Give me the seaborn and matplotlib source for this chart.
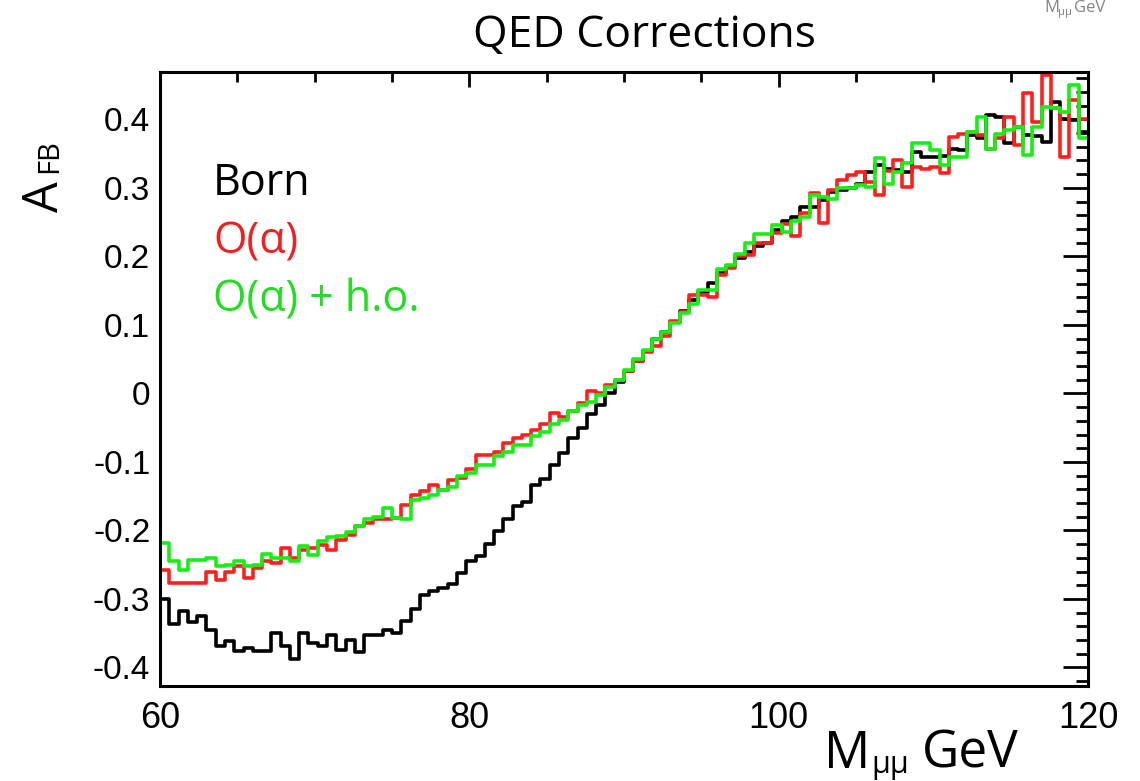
import numpy as np
import pandas as pd
import matplotlib
matplotlib.use("Agg")
import matplotlib.pyplot as plt
from matplotlib.ticker import MultipleLocator, FixedLocator, FuncFormatter
import seaborn as sns

# Binning of the dimuon mass distribution (GeV)
m_low, m_high, n_bins = 60.0, 120.0, 100

# Forward-backward asymmetry per bin
born = [
    -0.300, -0.337, -0.318, -0.333, -0.325, -0.345, -0.369, -0.362, -0.376, -0.371,
    -0.376, -0.376, -0.350, -0.369, -0.388, -0.350, -0.364, -0.369, -0.352, -0.374,
    -0.360, -0.377, -0.352, -0.352, -0.346, -0.349, -0.332, -0.315, -0.294, -0.289,
    -0.284, -0.278, -0.262, -0.244, -0.238, -0.220, -0.201, -0.184, -0.165, -0.159,
    -0.133, -0.125, -0.104, -0.087, -0.065, -0.051, -0.030, -0.017, 0.000, 0.017,
    0.032, 0.047, 0.062, 0.079, 0.090, 0.104, 0.120, 0.137, 0.148, 0.161,
    0.175, 0.186, 0.197, 0.207, 0.215, 0.220, 0.238, 0.252, 0.257, 0.272,
    0.272, 0.282, 0.294, 0.297, 0.300, 0.305, 0.323, 0.333, 0.328, 0.326,
    0.323, 0.352, 0.345, 0.345, 0.347, 0.357, 0.355, 0.377, 0.372, 0.406,
    0.404, 0.365, 0.389, 0.377, 0.375, 0.367, 0.425, 0.401, 0.399, 0.382,
]
o_alpha = [
    -0.258, -0.277, -0.277, -0.277, -0.277, -0.260, -0.272, -0.260, -0.252, -0.270,
    -0.255, -0.245, -0.248, -0.226, -0.240, -0.228, -0.226, -0.221, -0.228, -0.214,
    -0.206, -0.194, -0.189, -0.184, -0.184, -0.182, -0.163, -0.148, -0.143, -0.133,
    -0.141, -0.126, -0.124, -0.111, -0.090, -0.090, -0.085, -0.073, -0.065, -0.060,
    -0.053, -0.044, -0.029, -0.034, -0.026, -0.014, 0.003, 0.001, 0.012, 0.020,
    0.032, 0.047, 0.060, 0.069, 0.084, 0.105, 0.119, 0.144, 0.144, 0.140,
    0.173, 0.183, 0.200, 0.202, 0.219, 0.219, 0.234, 0.247, 0.229, 0.263,
    0.293, 0.248, 0.297, 0.311, 0.318, 0.323, 0.309, 0.289, 0.325, 0.340,
    0.301, 0.331, 0.328, 0.330, 0.321, 0.374, 0.379, 0.382, 0.377, 0.356,
    0.372, 0.404, 0.362, 0.438, 0.396, 0.464, 0.416, 0.345, 0.428, 0.401,
]
o_alpha_ho = [
    -0.218, -0.245, -0.258, -0.243, -0.243, -0.240, -0.252, -0.250, -0.245, -0.252,
    -0.250, -0.235, -0.240, -0.240, -0.245, -0.223, -0.236, -0.215, -0.209, -0.208,
    -0.202, -0.193, -0.183, -0.181, -0.167, -0.182, -0.184, -0.155, -0.153, -0.148,
    -0.141, -0.136, -0.121, -0.116, -0.104, -0.105, -0.092, -0.085, -0.075, -0.075,
    -0.062, -0.056, -0.044, -0.039, -0.026, -0.017, -0.013, -0.002, 0.010, 0.020,
    0.034, 0.050, 0.064, 0.079, 0.090, 0.102, 0.118, 0.131, 0.151, 0.151,
    0.181, 0.187, 0.204, 0.219, 0.233, 0.233, 0.246, 0.235, 0.252, 0.257,
    0.289, 0.287, 0.284, 0.299, 0.300, 0.304, 0.301, 0.343, 0.306, 0.323,
    0.336, 0.365, 0.365, 0.355, 0.333, 0.345, 0.345, 0.382, 0.404, 0.357,
    0.379, 0.384, 0.389, 0.348, 0.389, 0.418, 0.416, 0.411, 0.450, 0.372,
]

series_names = ["Born", "O(α)", "O(α) + h.o."]
series_values = [born, o_alpha, o_alpha_ho]
series_colors = ["#000000", "#ff1f1f", "#16ee16"]
text_colors = ["#000000", "#f02020", "#22dd22"]

x_major = [60, 80, 100, 120]
y_lim = (-0.427, 0.469)

# Step-histogram outline: start from the frame bottom at the first edge
edges = np.linspace(m_low, m_high, n_bins + 1)
frames = []
for name, vals in zip(series_names, series_values):
    xs = np.concatenate([[edges[0]], edges[:-1], [edges[-1]]])
    ys = np.concatenate([[y_lim[0]], vals, [vals[-1]]])
    frames.append(pd.DataFrame({"m": xs, "afb": ys, "series": name}))
df = pd.concat(frames, ignore_index=True)

sns.set_theme(style="white")
plt.rcParams["font.family"] = ["Liberation Sans", "DejaVu Sans"]
plt.rcParams["axes.unicode_minus"] = False

W, H = 1140, 781
fig = plt.figure(figsize=(W / 100, H / 100), dpi=100)
ax = fig.add_axes([160 / W, 1 - 686 / H, (1088 - 160) / W, (686 - 72) / H])

sns.lineplot(data=df, x="m", y="afb", hue="series", hue_order=series_names,
             palette=dict(zip(series_names, series_colors)), estimator=None,
             sort=False, units="series", drawstyle="steps-post", linewidth=2.6,
             legend=False, ax=ax)

ax.set_xlim(m_low, m_high)
ax.set_ylim(*y_lim)
ax.set_xlabel("")
ax.set_ylabel("")

ax.xaxis.set_major_locator(FixedLocator(x_major))
ax.xaxis.set_minor_locator(MultipleLocator(5))
ax.yaxis.set_major_locator(MultipleLocator(0.1))
ax.yaxis.set_minor_locator(MultipleLocator(0.02))
ax.yaxis.set_major_formatter(FuncFormatter(lambda v, p: "0" if abs(v) < 1e-9 else f"{v:.1f}"))
ax.xaxis.set_major_formatter(FuncFormatter(lambda v, p: f"{v:.0f}"))

ax.tick_params(axis="both", which="both", direction="in", top=True, right=True,
               color="black", width=2.0)
ax.tick_params(axis="y", which="major", length=18, labelsize=24, pad=7)
ax.tick_params(axis="y", which="minor", length=9)
ax.tick_params(axis="x", which="major", length=11, labelsize=26, pad=11)
ax.tick_params(axis="x", which="minor", length=7)
for lab in ax.get_xticklabels() + ax.get_yticklabels():
    lab.set_color("black")
for sp in ax.spines.values():
    sp.set_color("black")
    sp.set_linewidth(2.2)

title_font = ["Open Sans", "DejaVu Sans"]

# Title
fig.text(644 / W, 1 - 36 / H, "QED Corrections", ha="center", va="center",
         fontsize=32, family=title_font, color="black")

# Series labels inside the frame
label_y = [184, 242, 300]
for name, col, py in zip(series_names, text_colors, label_y):
    fig.text(213 / W, 1 - py / H, name, ha="left", va="center", fontsize=31,
             family=title_font, color=col)

# Axis titles
fig.text(70 / W, 1 - 197 / H, "A", rotation=90, ha="right", va="center",
         fontsize=35, family=title_font, color="black")
fig.text(64 / W, 1 - 156 / H, "FB", rotation=90, ha="right", va="center",
         fontsize=21, family=title_font, color="black")

fig.text(824 / W, 1 - 768 / H, "M", ha="left", va="baseline", fontsize=37,
         family=title_font, color="black")
fig.text(871 / W, 1 - 773 / H, "μμ", ha="left", va="baseline", fontsize=22,
         family=title_font, color="black")
fig.text(922 / W, 1 - 768 / H, "GeV", ha="left", va="baseline", fontsize=37,
         family=title_font, color="black")

# Small caption fragment at the top right edge
fig.text(1044 / W, 1 - 12 / H, "M", ha="left", va="baseline", fontsize=12,
         family=title_font, color="#666666", alpha=0.8)
fig.text(1058 / W, 1 - 15 / H, "μμ", ha="left", va="baseline", fontsize=8,
         family=title_font, color="#666666", alpha=0.8)
fig.text(1074 / W, 1 - 12 / H, "GeV", ha="left", va="baseline", fontsize=12,
         family=title_font, color="#666666", alpha=0.8)

fig.savefig("out.png", dpi=100, facecolor="white")
